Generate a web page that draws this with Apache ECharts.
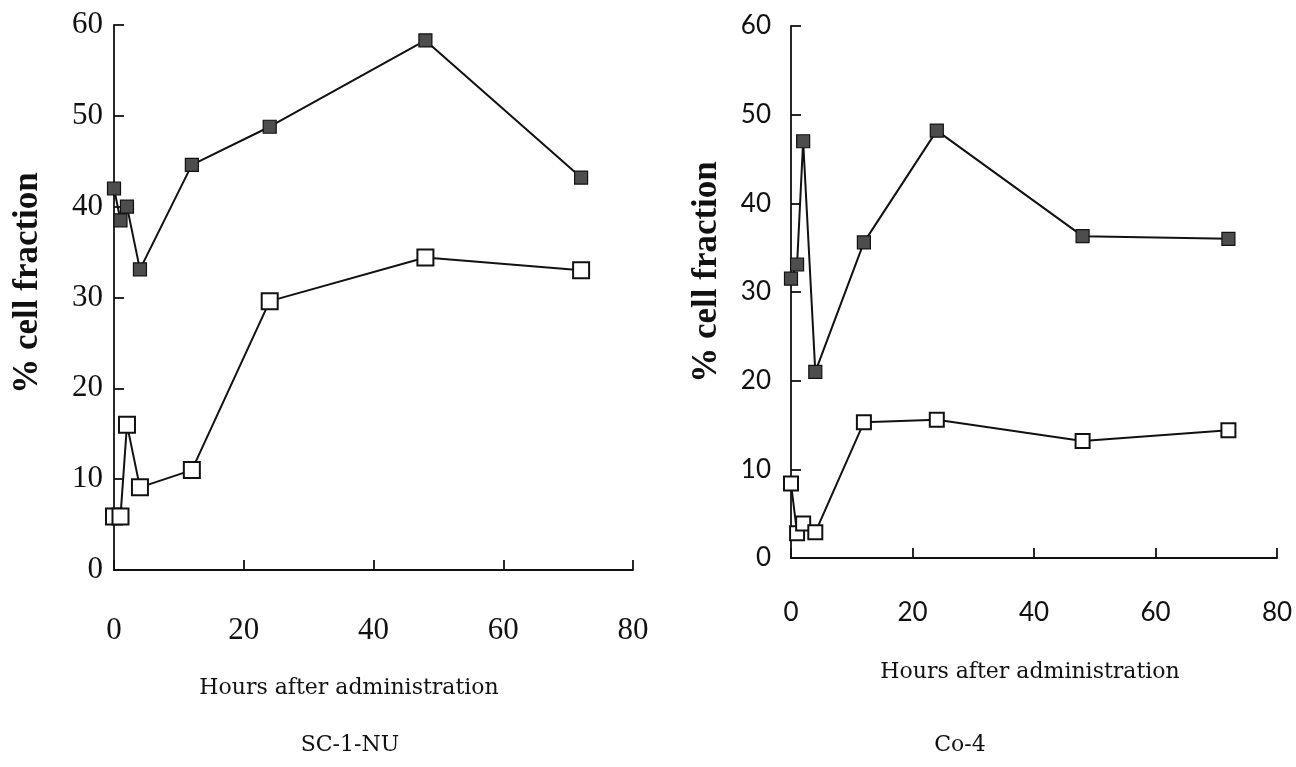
<!DOCTYPE html>
<html><head><meta charset="utf-8">
<script src="https://cdn.jsdelivr.net/npm/echarts@6/dist/echarts.min.js"></script>
<style>html,body{margin:0;padding:0;background:#fff}#c{width:1296px;height:767px}</style>
</head><body><div id="c"></div>
<script>
// Data
const hours  = [0, 1, 2, 4, 12, 24, 48, 72];
const scDark = [42.0, 38.5, 40.0, 33.1, 44.6, 48.8, 58.3, 43.2];
const scOpen = [5.9, 5.9, 16.0, 9.1, 11.0, 29.6, 34.4, 33.0];
const coDark = [31.5, 33.1, 47.0, 21.0, 35.6, 48.2, 36.3, 36.0];
const coOpen = [8.4, 2.8, 3.9, 2.9, 15.3, 15.6, 13.2, 14.4];
const panelTitles = ['SC-1-NU', 'Co-4'];
const yName = '% cell fraction';
const xName = 'Hours after administration';
const xRange = [0, 80, 20];
const yRange = [0, 60, 10];

const INK = '#111';
const chart = echarts.init(document.getElementById('c'), null, {renderer: 'canvas'});
const pairs = v => hours.map((h, i) => [h, v[i]]);

function xAxisCfg(g, font, size, margin) {
  return {
    gridIndex: g, type: 'value', min: xRange[0], max: xRange[1], interval: xRange[2],
    axisLine: {show: true, lineStyle: {color: INK, width: 1.8}},
    axisTick: {show: true, inside: true, length: 10, lineStyle: {color: INK, width: 1.8}},
    axisLabel: {margin: margin, fontFamily: font, fontSize: size, color: INK, showMinLabel: true, showMaxLabel: true},
    splitLine: {show: false}
  };
}
function yAxisCfg(g, font, size, margin) {
  return {
    gridIndex: g, type: 'value', min: yRange[0], max: yRange[1], interval: yRange[2],
    axisLine: {show: true, lineStyle: {color: INK, width: 1.8}},
    axisTick: {show: true, inside: true, length: 10, lineStyle: {color: INK, width: 1.8}},
    axisLabel: {margin: margin, fontFamily: font, fontSize: size, color: INK, showMinLabel: true, showMaxLabel: true},
    splitLine: {show: false}
  };
}
function darkSeries(idx, vals) {
  return {
    type: 'line', xAxisIndex: idx, yAxisIndex: idx, data: pairs(vals),
    symbol: 'rect', symbolSize: 13, showAllSymbol: true, z: 3,
    lineStyle: {color: INK, width: 2},
    itemStyle: {color: '#4d4d4d', borderColor: INK, borderWidth: 1.2}
  };
}
function openSeries(idx, vals, size) {
  return {
    type: 'line', xAxisIndex: idx, yAxisIndex: idx, data: pairs(vals),
    symbol: 'rect', symbolSize: size, showAllSymbol: true, z: 3,
    lineStyle: {color: INK, width: 2},
    itemStyle: {color: '#fff', borderColor: INK, borderWidth: 2}
  };
}
function txt(x, y, text, font, rot) {
  return {type: 'text', x: x, y: y, rotation: rot || 0,
    style: {text: text, font: font, fill: INK, align: 'center', verticalAlign: 'middle',
            textAlign: 'center', textVerticalAlign: 'middle'}};
}

const serif = '"Liberation Serif", "Times New Roman", serif';
chart.setOption({
  animation: false,
  backgroundColor: '#fff',
  grid: [
    {left: 114, right: 663, top: 25, bottom: 197, containLabel: false},
    {left: 791, right: 19, top: 26, bottom: 209, containLabel: false}
  ],
  xAxis: [xAxisCfg(0, serif, 31, 45), xAxisCfg(1, 'Lato', 26, 42)],
  yAxis: [yAxisCfg(0, serif, 31, 11), yAxisCfg(1, 'Lato', 26, 20)],
  series: [
    darkSeries(0, scDark), openSeries(0, scOpen, 16),
    darkSeries(1, coDark), openSeries(1, coOpen, 14)
  ],
  graphic: [
    txt(28, 283, yName, 'bold 35px ' + serif, Math.PI / 2),
    txt(707, 272, yName, 'bold 35px ' + serif, Math.PI / 2),
    txt(349, 688, xName, '22px "DejaVu Serif"'),
    txt(1030, 672, xName, '22px "DejaVu Serif"'),
    txt(350, 745, panelTitles[0], '22px "DejaVu Serif"'),
    txt(960, 745, panelTitles[1], '22px "DejaVu Serif"')
  ]
});
</script></body></html>
